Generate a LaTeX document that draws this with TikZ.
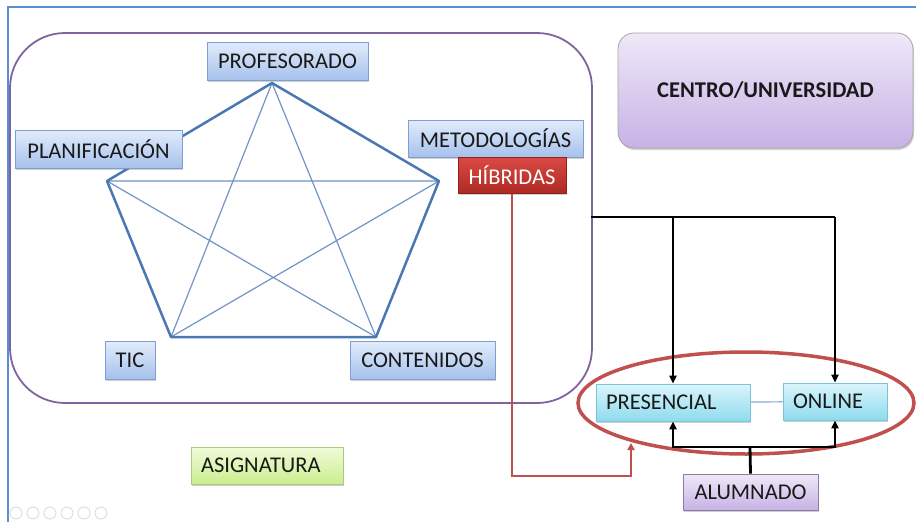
\documentclass[tikz,border=0pt]{standalone}
\usepackage{fontspec}
\setmainfont{Carlito}
\usetikzlibrary{arrows.meta,shadows,backgrounds,calc}
\definecolor{framec}{HTML}{5B8DD0}
\definecolor{purplec}{HTML}{7F64A2}
\definecolor{penta}{HTML}{4A78B2}
\definecolor{starc}{HTML}{7095C6}
\definecolor{redc}{HTML}{C0504D}
\definecolor{bluetop}{HTML}{E2ECFC}
\definecolor{bluebot}{HTML}{A6C1EC}
\definecolor{blueborder}{HTML}{7D9FD3}
\definecolor{redtop}{HTML}{DA4A43}
\definecolor{redbot}{HTML}{AE2A24}
\definecolor{violtop}{HTML}{EFE8F8}
\definecolor{violbot}{HTML}{C7B2E5}
\definecolor{cyantop}{HTML}{DAF5FC}
\definecolor{cyanbot}{HTML}{8FDBEE}
\definecolor{cyanborder}{HTML}{7CC3D6}
\definecolor{greentop}{HTML}{F1FBDA}
\definecolor{greenbot}{HTML}{CBEE8E}
\definecolor{greenborder}{HTML}{A9C97C}
\tikzset{
  x=1pt, y=-1pt,
  every node/.style={font=\fontsize{22.5}{26}\selectfont, text=black!90, inner sep=0pt},
  shad/.style={drop shadow={shadow xshift=1pt, shadow yshift=-2pt, opacity=0.3, fill=black!60}},
  bluebox/.style={shad, draw=blueborder, line width=0.8pt, top color=bluetop, bottom color=bluebot},
  redbox/.style={shad, draw=redbot!80!black, line width=0.8pt, top color=redtop, bottom color=redbot, text=white},
  cyanbox/.style={shad, draw=cyanborder, line width=0.8pt, top color=cyantop, bottom color=cyanbot},
  greenbox/.style={shad, draw=greenborder, line width=0.8pt, top color=greentop, bottom color=greenbot},
  violbox/.style={shad, draw=black!35, line width=0.8pt, top color=violtop, bottom color=violbot},
  pedge/.style={draw=penta, line width=2.5pt},
  sline/.style={draw=starc, line width=1.2pt},
  blk/.style={draw=black, line width=2.8pt},
  blkarrow/.style={blk, -{Triangle[width=7pt,length=8pt]}},
  redarrow/.style={draw=redc, line width=2.6pt, -{Triangle[width=7pt,length=7pt]}},
}
\begin{document}
\begin{tikzpicture}
\useasboundingbox (0,0) rectangle (916,522);

% nodes
\node[bluebox, minimum width=161pt, minimum height=38pt] (prof) at (287.5,61) {PROFESORADO};
\node[bluebox, minimum width=167pt, minimum height=38pt] (plan) at (98.5,149) {PLANIFICACIÓN};
\node[bluebox, minimum width=175pt, minimum height=37pt] (met) at (495.5,138.5) {METODOLOGÍAS};
\node[redbox, minimum width=108pt, minimum height=36pt] (hib) at (512,175) {HÍBRIDAS};
\node[bluebox, minimum width=50pt, minimum height=38pt] (tic) at (130,360) {TIC};
\node[bluebox, minimum width=145pt, minimum height=38pt] (cont) at (422.5,360) {CONTENIDOS};
\node[greenbox, minimum width=152pt, minimum height=37pt, text width=132pt, align=left] (asig) at (267,465.5) {ASIGNATURA};
\node[violbox, rounded corners=16pt, minimum width=295pt, minimum height=115pt, font=\fontsize{22.5}{26}\selectfont\bfseries] (centro) at (765.5,90.5) {CENTRO/UNIVERSIDAD};
\node[cyanbox, minimum width=154pt, minimum height=37pt, text width=134pt, align=left] (pres) at (673,402.5) {PRESENCIAL};
\node[cyanbox, minimum width=104pt, minimum height=37pt, text width=84pt, align=left] (onl) at (835,401.5) {ONLINE};
\node[violbox, draw=violbot!70!black, minimum width=135pt, minimum height=36pt] (alum) at (750.5,492) {ALUMNADO};

% pentagon vertices
\coordinate (vt) at (272,83);
\coordinate (vl) at (107,181);
\coordinate (vr) at (439,181);
\coordinate (vbl) at (171,337);
\coordinate (vbr) at (376,337);
\coordinate (j1) at (591,217);
\coordinate (bus) at (750,447);
\coordinate (rc) at (631,476);
\coordinate (rend) at (631,443);

\begin{pgfonlayer}{background}
  \fill[white] (0,0) rectangle (916,522);
  % outer frame
  \draw[framec, line width=1.6pt] (8,522) -- (8,7) -- (916,7);
  % big purple rounded rectangle
  \draw[purplec, line width=1.8pt, rounded corners=55pt] (10,33) rectangle (592,403);
  % star
  \draw[sline] (vt) -- (vbl) (vt) -- (vbr) (vl) -- (vr) (vl) -- (vbr) (vr) -- (vbl);
  % pentagon
  \draw[pedge, line join=round] (vt) -- (vr) -- (vbr) -- (vbl) -- (vl) -- cycle;
  % red ellipse
  \draw[redc, line width=3.5pt] (746,403) ellipse [x radius=168, y radius=51];
  % link presencial-online
  \draw[starc!80, line width=1.2pt] (pres) -- (onl);
  % black connectors
  \draw[blk] (j1) -- (onl.north |- j1);
  \draw[blkarrow] (pres.north |- j1) -- (pres.north);
  \draw[blkarrow] (onl.north |- j1) -- (onl.north);
  \draw[blk] (alum.north) -- (bus);
  \draw[blkarrow] (bus) -| (pres.south);
  \draw[blkarrow] (bus) -| (onl.south);
  % red connector
  \draw[redarrow] (hib.south) |- (rc) -- (rend);
  % slide icons
  \foreach \i in {0,...,5} \draw[black!15, line width=0.8pt] (16+17*\i,513) circle (6);
\end{pgfonlayer}
\end{tikzpicture}
\end{document}
